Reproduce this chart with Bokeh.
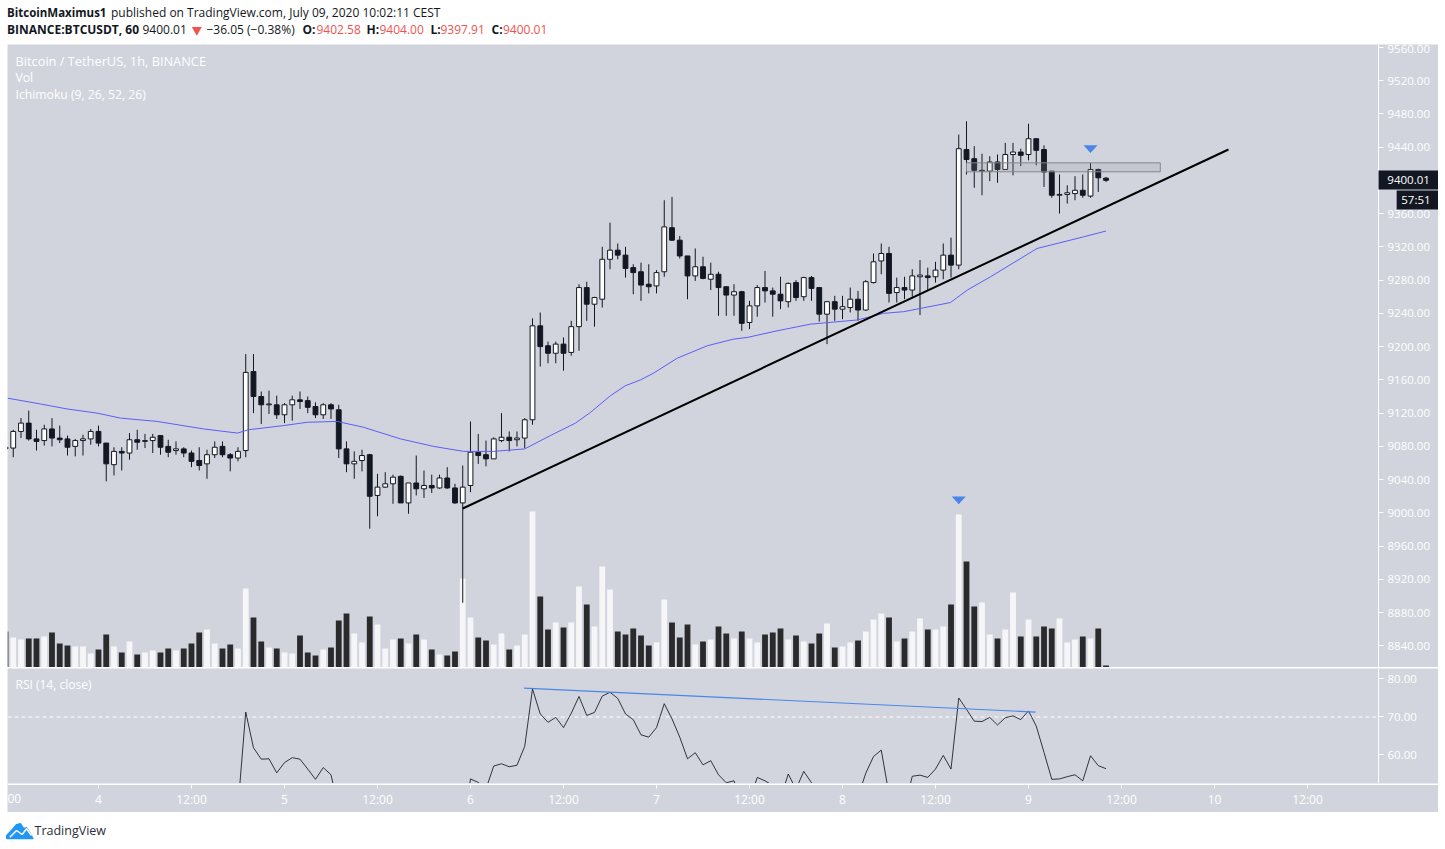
from bokeh.embed import file_html
from bokeh.resources import INLINE
from bokeh.layouts import column
from bokeh.models import (Range1d, LinearAxis, FixedTicker, Label, BoxAnnotation,
                          ColumnDataSource, NumeralTickFormatter)
from bokeh.plotting import figure

HOURS = list(range(-12, 131))
OPENS = [9079,
 9078,9098,9108,9089,9087,9101,9090,9089,9080,9087,9089,
 9098,9084,9058,9074,9072,9088,9086,9087,9093,9080,9075,9077,
 9072,9063,9059,9070,9080,9070,9066,9075,9170,9140,9130,9130,
 9118,9130,9136,9135,9128,9118,9130,9124,9077,9059,9063,9070,
 9021,9031,9035,9044,9012,9036,9029,9033,9030,9042,9030,9012,
 9033,9073,9070,9065,9087,9091,9088,9090,9112,9225,9201,9192,
 9203,9193,9224,9271,9251,9257,9305,9316,9310,9295,9290,9275,
 9273,9290,9343,9328,9309,9285,9296,9281,9287,9272,9262,9266,
 9229,9249,9271,9267,9263,9254,9277,9260,9283,9271,9239,9254,
 9245,9247,9257,9244,9277,9303,9312,9265,9271,9268,9284,9285,
 9284,9292,9310,9298,9437,9426,9411,9411,9422,9413,9431,9434,
 9431,9450,9437,9411,9382,9383,9384,9388,9381,9413,9402.58]
CLOSES = [9077,
 9098,9108,9089,9086,9101,9090,9088,9079,9087,9089,9098,
 9084,9059,9074,9072,9088,9085,9087,9091,9079,9073,9077,9072,
 9062,9057,9070,9079,9070,9066,9074,9169,9140,9130,9131,9118,
 9130,9136,9134,9127,9118,9130,9125,9077,9059,9062,9069,9020,
 9031,9035,9043,9012,9036,9029,9033,9030,9042,9030,9012,9031,
 9073,9069,9065,9089,9091,9087,9090,9112,9225,9200,9192,9203,
 9192,9224,9271,9251,9259,9305,9316,9310,9294,9289,9274,9272,
 9289,9344,9328,9309,9285,9296,9282,9287,9271,9262,9266,9228,
 9249,9271,9267,9263,9255,9276,9259,9283,9270,9239,9254,9245,
 9248,9257,9244,9278,9302,9312,9264,9271,9268,9285,9286,9283,
 9292,9310,9298,9438,9425,9412,9412,9422,9413,9431,9434,9430,
 9450,9436,9410,9382,9383,9385,9388,9382,9413,9403,9400.01]
HIGHS = [9090,
 9100,9114,9123,9100,9106,9114,9105,9093,9089,9094,9101,
 9105,9084,9079,9079,9096,9100,9095,9095,9093,9088,9086,9079,
 9075,9079,9076,9086,9086,9072,9079,9191,9191,9146,9147,9141,
 9132,9141,9146,9140,9133,9132,9132,9130,9086,9074,9076,9071,
 9047,9049,9046,9045,9036,9069,9051,9046,9046,9055,9035,9057,
 9110,9095,9087,9091,9120,9098,9098,9114,9234,9241,9206,9206,
 9211,9231,9275,9278,9260,9320,9349,9324,9320,9299,9301,9299,
 9292,9376,9380,9333,9309,9318,9308,9301,9290,9272,9275,9267,
 9255,9274,9291,9271,9284,9277,9280,9284,9285,9271,9255,9261,
 9261,9271,9267,9280,9312,9324,9320,9283,9284,9293,9304,9295,
 9302,9324,9331,9455,9471,9441,9432,9429,9431,9445,9445,9438,
 9468,9450,9442,9411,9407,9394,9405,9407,9421,9414,9404.00]
LOWS = [9070,
 9067,9090,9087,9075,9081,9080,9084,9069,9068,9069,9082,
 9080,9038,9045,9051,9064,9076,9078,9072,9070,9067,9070,9067,
 9055,9051,9041,9066,9067,9050,9062,9067,9120,9107,9119,9113,
 9108,9111,9125,9120,9114,9113,9113,9066,9049,9041,9050,8981,
 8996,9030,9011,9012,8999,9021,9018,9024,9029,9029,9011,8892,
 9025,9059,9056,9065,9085,9074,9080,9078,9106,9176,9180,9180,
 9171,9189,9195,9231,9224,9247,9293,9305,9283,9263,9255,9264,
 9264,9284,9327,9306,9257,9279,9281,9268,9237,9237,9237,9219,
 9221,9236,9253,9236,9245,9247,9255,9255,9255,9230,9203,9231,
 9233,9241,9231,9243,9276,9287,9253,9253,9257,9260,9238,9268,
 9277,9281,9283,9293,9407,9391,9382,9399,9397,9413,9406,9417,
 9424,9418,9392,9379,9360,9372,9376,9379,9379,9386,9397.91]
VOLUMES = [108,
 90,84,87,87,93,105,72,66,63,63,42,
 54,99,63,45,78,39,45,51,45,57,51,57,
 72,105,114,72,57,69,57,237,150,78,60,57,
 45,42,96,45,36,54,60,141,162,102,75,153,
 129,57,84,87,72,99,84,54,39,36,48,267,
 150,90,81,69,102,54,66,99,468,213,114,135,
 120,135,243,189,123,303,234,108,99,117,96,66,
 75,204,135,90,129,69,78,84,123,102,87,108,
 87,75,99,105,117,84,96,78,72,102,132,60,
 63,75,81,108,144,162,150,78,87,108,147,114,
 114,123,189,459,318,183,195,99,87,114,225,93,
 144,93,123,117,147,75,84,93,87,117,6]
RSI_HOURS = list(range(18, 131))
RSI_VALUES = [46.3,71.3,61.9,58.9,59.0,55.3,
 58.0,59.3,58.9,56.3,53.6,56.7,54.8,45.9,42,43,44,36,
 38,39,41,38,40,42,42,42,45,43,38,40,
 53.7,52.8,51.1,57.1,57.7,56.9,57.3,62.3,77.4,70.8,68.6,69.9,
 67.2,71.0,75.4,70.4,71.2,75.5,76.5,74.9,70.8,69.3,65.3,64.7,
 67.2,73.5,69.5,64.7,59.0,60.6,57.4,58.5,54.8,52.7,53.2,47.2,
 48.0,54.1,53.2,52.0,48.5,55.0,51.0,55.7,52.7,47.0,48.9,46,
 45,47,49,55.2,59.6,61.3,49.6,47,46,54.4,54.7,54.1,
 56.3,59.9,56.3,75.0,72.0,68.9,68.8,69.9,67.9,69.8,70.3,69.3,
 71.6,67.6,60.7,53.6,53.7,54.3,54.8,53.2,59.8,57.2,56.4]
MA_HOURS = [-11.74,-7.48,-4.04,-0.17,2.84,7.57,13.55,17.94,19.35,23.87,26.93,30.8,34.19,38.97,43.23,47.1,
 51,55,58.3,61.55,63.5,66.06,68,69.94,71.6,74.67,78.54,81.94,83.7,87.57,91.87,97.9,101.3,103.9,
 109.94,112.1,115.1,121.1,127.1,130]
MA_PRICES = [9138,9131,9125,9120,9114,9110,9101,9096,9100,9105,9109,9110,9103,9089,9080,9074,
 9074,9077,9093,9108,9121,9141,9153,9160,9168,9186,9201,9209,9211,9219,9227,9232,9240,9242,
 9253,9268,9284,9318,9332,9339]
TREND_HOURS = [47, 145.8]
TREND_PRICES = [9005.3, 9437]
RSI_TREND_HOURS = [54.9, 120.9]
RSI_TREND_VALUES = [77.6, 71.3]
BOX_HOURS = [112, 137]
BOX_PRICES = [9410.2, 9421]
SIGNAL_HOURS = [128, 111]
SIGNAL_PRICES = [9437.5, 9015]
PRICE_TICKS = list(range(8840, 9561, 40))
RSI_TICKS = [60, 70, 80]
TIME_TICKS = {0:"4",12:"12:00",24:"5",36:"12:00",48:"6",60:"12:00",72:"7",84:"12:00",
              96:"8",108:"12:00",120:"9",132:"12:00",144:"10",156:"12:00"}
H_LEFT, H_AXIS, H_RIGHT = -11.74, 165.16, 172.9

BG = "#d1d4dc"
INK = "#131722"
FONT = "Open Sans"
RED = "#ef5350"

def label(text, x, y, size="12px", color=INK, style="normal", font=FONT, **kw):
    return Label(text=text, x=x, y=y, text_font=font, text_font_size=size, text_color=color,
                 text_font_style=style, text_baseline="middle", **kw)

def value_axis(fig, ticks):
    fig.add_layout(LinearAxis(ticker=FixedTicker(ticks=ticks), fixed_location=H_AXIS,
                              formatter=NumeralTickFormatter(format="0.00"),
                              axis_line_color="white", major_tick_line_color="white",
                              major_tick_out=5, major_tick_in=0, minor_tick_line_color=None,
                              major_label_text_color="white", major_label_text_font=FONT,
                              major_label_text_font_size="11.5px", major_label_standoff=4), "right")

# ---------- header ----------
header = figure(width=1438, height=44, output_backend="svg", toolbar_location=None,
                x_range=Range1d(0, 1438), y_range=Range1d(44, 0), min_border=0,
                x_axis_type=None, y_axis_type=None, outline_line_color=None)
header.grid.visible = False
header.add_layout(label("BitcoinMaximus1", 6.5, 12, size="11.5px", style="bold"))
for t, x, y, c, s in [
    ("published on TradingView.com, July 09, 2020 10:02:11 CEST", 110.5, 12, INK, "normal"),
    ("BINANCE:BTCUSDT, 60", 6.5, 29, INK, "bold"),
    ("9400.01", 142, 29, INK, "normal"),
    ("\u221236.05 (\u22120.38%)", 206, 29, INK, "normal"),
    ("O:", 302, 29, INK, "bold"), ("9402.58", 316, 29, RED, "normal"),
    ("H:", 366, 29, INK, "bold"), ("9404.00", 379, 29, RED, "normal"),
    ("L:", 430, 29, INK, "bold"), ("9397.91", 440, 29, RED, "normal"),
    ("C:", 491, 29, INK, "bold"), ("9400.01", 502.5, 29, RED, "normal"),
]:
    header.add_layout(label(t, x, y, size="12px", color=c, style=s))
header.scatter([196.3], [29.5], marker="inverted_triangle", size=10, color=RED, line_color=None)

# ---------- main pane ----------
x_range = Range1d(H_LEFT, H_RIGHT)
main = figure(width=1431, height=623, output_backend="svg", toolbar_location=None,
              x_range=x_range, y_range=Range1d(8814.1, 9563.3),
              x_axis_type=None, y_axis_type=None, min_border=0, outline_line_color=None,
              background_fill_color=BG, border_fill_color=BG, margin=(0, 0, 0, 7))
main.grid.visible = False
main.extra_y_ranges = {"vol": Range1d(0, 1869)}
value_axis(main, PRICE_TICKS)

ups = [c >= o for o, c in zip(OPENS, CLOSES)]
src = ColumnDataSource(dict(
    h=HOURS, o=OPENS, c=CLOSES, hi=HIGHS, lo=LOWS, v=VOLUMES,
    top=[max(o, c) for o, c in zip(OPENS, CLOSES)],
    bot=[min(o, c) for o, c in zip(OPENS, CLOSES)],
    vcol=["#f6f6f9" if u else "#2a2a2d" for u in ups],
    fill=["#ffffff" if u else INK for u in ups],
))
main.vbar(x="h", top="v", bottom=0, width=0.75, fill_color="vcol", line_color=None,
          source=src, y_range_name="vol")
main.segment(x0="h", y0="hi", x1="h", y1="lo", line_color=INK, line_width=1, source=src)
main.vbar(x="h", top="top", bottom="bot", width=0.62, fill_color="fill", line_color=INK,
          line_width=1, source=src)
main.line(MA_HOURS, MA_PRICES, line_color="#5b5ff5", line_width=1)
main.quad(left=[BOX_HOURS[0]], right=[BOX_HOURS[1]], bottom=[BOX_PRICES[0]], top=[BOX_PRICES[1]],
          fill_color="#9598a1", fill_alpha=0.2, line_color="#84878c", line_width=1)
main.line(TREND_HOURS, TREND_PRICES, line_color="black", line_width=2)
main.patches([[h - 0.9, h + 0.9, h] for h in SIGNAL_HOURS],
             [[p + 4.6, p + 4.6, p - 4.6] for p in SIGNAL_PRICES],
             fill_color="#4a86e8", line_color=None)
for t, y, s in [("Bitcoin / TetherUS, 1h, BINANCE", 9544, "12.8px"), ("Vol", 9523.7, "12.2px"),
                ("Ichimoku (9, 26, 52, 26)", 9503, "12.2px")]:
    main.add_layout(label(t, 8, y, size=s, color="white", x_units="screen"))
main.add_layout(BoxAnnotation(left=H_AXIS, right=H_RIGHT, bottom=9389, top=9411.8,
                              fill_color=INK, fill_alpha=1, line_color=None))
main.add_layout(BoxAnnotation(left=167.5, right=H_RIGHT, bottom=9364.9, top=9387.8,
                              fill_color=INK, fill_alpha=1, line_color=None))
main.add_layout(label("9400.01", 166.3, 9400, size="11.5px", color="white"))
main.add_layout(label("57:51", 168.1, 9376.4, size="11.5px", color="white"))

# ---------- RSI pane ----------
rsi = figure(width=1431, height=115, output_backend="svg", toolbar_location=None,
             x_range=x_range, y_range=Range1d(52.5, 82.76),
             x_axis_type=None, y_axis_type=None, min_border=0, outline_line_color=None,
             background_fill_color="#d2d5dd", border_fill_color=BG, margin=(1, 0, 0, 7))
rsi.grid.visible = False
value_axis(rsi, RSI_TICKS)
rsi.line([H_LEFT, H_AXIS], [70, 70], line_color="white", line_dash=[4, 3], line_width=1)
rsi.line(RSI_HOURS, RSI_VALUES, line_color=INK, line_width=1, line_alpha=0.85)
rsi.line(RSI_TREND_HOURS, RSI_TREND_VALUES, line_color="#4a86e8", line_width=1.2)
rsi.add_layout(label("RSI (14, close)", 8, 78.55, color="white", x_units="screen"))

# ---------- time axis ----------
times = figure(width=1431, height=29, output_backend="svg", toolbar_location=None,
               x_range=x_range, y_range=Range1d(0, 29),
               x_axis_type=None, y_axis_type=None, min_border=0, outline_line_color=None,
               background_fill_color=BG, border_fill_color=BG, margin=(0, 0, 0, 7))
times.grid.visible = False
times.add_layout(LinearAxis(ticker=FixedTicker(ticks=list(TIME_TICKS)), major_label_overrides=TIME_TICKS,
                            fixed_location=28.5, axis_line_color="white", major_tick_line_color="white",
                            major_tick_out=4, major_tick_in=0, minor_tick_line_color=None,
                            major_label_text_color="white", major_label_text_font=FONT,
                            major_label_text_font_size="12px", major_label_standoff=3), "below")
times.add_layout(label("00", 0, 14, color="white", x_units="screen"))

# ---------- footer ----------
LOGO_X = [6.3, 11.7, 16, 20, 23.3, 26, 30, 32.3, 6.3]
LOGO_Y = [835, 829.3, 824.3, 823.3, 828.3, 827.3, 833.3, 838, 838]
WAVE_X = [9.3, 16, 21.7, 26, 31]
WAVE_Y = [836.7, 830, 834, 828.3, 835]
footer = figure(width=1438, height=28, output_backend="svg", toolbar_location=None,
                x_range=Range1d(0, 1438), y_range=Range1d(840, 812), min_border=0,
                x_axis_type=None, y_axis_type=None, outline_line_color=None)
footer.grid.visible = False
footer.patch(LOGO_X, LOGO_Y, fill_color="#2196f3", line_color="#2196f3", line_join="round", line_width=1.5)
footer.line(WAVE_X, WAVE_Y, line_color="white", line_width=1.5)
footer.add_layout(label("TradingView", 34, 830, size="12.5px", color="#2a2e39"))

page = column(header, main, rsi, times, footer, spacing=0)
open("out.html", "w").write(file_html(page, INLINE))
